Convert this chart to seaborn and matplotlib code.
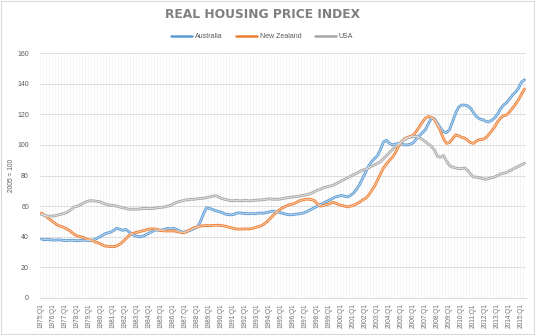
import numpy as np
import pandas as pd
import matplotlib
matplotlib.use("Agg")
import matplotlib.pyplot as plt
import seaborn as sns

# Quarterly real house price indices, 2005 = 100, 1975:Q1 .. 2015:Q2
australia = [
    38.5, 38.0, 38.3, 38.0,
    37.8, 37.9, 38.0, 37.7,
    37.5, 37.6, 37.8, 37.5,
    37.4, 37.6, 37.8, 37.6,
    37.5, 37.8, 38.5, 39.5,
    40.5, 41.8, 42.5, 43.0,
    44.0, 45.5, 45.0, 44.2,
    44.8, 43.5, 42.0, 40.8,
    40.2, 40.0, 40.5, 41.5,
    42.5, 43.5, 44.5, 44.2,
    44.3, 44.8, 45.5, 45.2,
    45.5, 44.8, 43.8, 43.0,
    43.2, 43.8, 44.5, 45.5,
    46.5, 50.0, 55.0, 59.0,
    58.5, 57.8, 57.0, 56.5,
    56.0, 55.0, 54.5, 54.3,
    54.5, 55.5, 55.6, 55.3,
    55.2, 55.0, 55.2, 55.0,
    55.3, 55.5, 55.4, 55.8,
    56.2, 56.8, 56.3, 56.0,
    55.5, 55.0, 54.5, 54.3,
    54.5, 54.8, 55.0, 55.3,
    56.0, 57.0, 58.0, 59.0,
    60.0, 61.0, 62.0, 63.0,
    64.0, 65.0, 66.0, 66.5,
    67.0, 66.5, 66.0, 67.0,
    68.5, 71.0, 74.0, 78.0,
    82.0, 86.0, 89.0, 91.0,
    93.0, 97.0, 102.0, 103.0,
    101.0, 100.0, 100.5, 101.0,
    100.5, 100.0, 100.0, 100.5,
    101.5, 104.0, 106.0, 108.0,
    110.0, 114.0, 117.5, 117.0,
    114.0, 111.0, 108.5, 108.0,
    110.0, 115.0, 120.5, 124.5,
    126.0, 126.0, 125.5, 124.0,
    121.0, 118.5, 117.0, 116.5,
    115.5, 115.0, 116.0, 117.5,
    120.0, 123.5, 126.0, 127.5,
    130.0, 132.5, 134.5, 137.0,
    141.0, 142.5,
]

new_zealand = [
    55.5, 54.0, 52.5, 51.0,
    49.5, 48.0, 47.0, 46.5,
    45.5, 44.5, 43.0, 41.5,
    40.5, 40.0, 39.5, 38.5,
    38.0, 37.5, 36.5, 36.0,
    35.0, 34.0, 33.8, 33.5,
    33.5, 34.0, 35.0, 36.5,
    38.5, 40.5, 42.0, 42.5,
    43.0, 43.5, 44.0, 44.5,
    45.0, 45.2, 45.0, 44.5,
    44.0, 43.8, 43.8, 43.8,
    43.8, 43.5, 43.0, 42.5,
    43.0, 44.0, 45.0, 46.0,
    46.5, 47.0, 47.2, 47.3,
    47.2, 47.4, 47.5, 47.5,
    47.3, 47.0, 46.5, 46.0,
    45.5, 45.0, 45.0, 45.0,
    45.2, 45.0, 45.3, 45.8,
    46.5, 47.0, 48.0, 49.5,
    51.5, 53.5, 55.5, 57.0,
    58.5, 59.5, 60.5, 61.0,
    61.5, 62.5, 63.5, 64.0,
    64.5, 64.5, 64.3, 63.5,
    61.5, 60.0, 60.5, 61.0,
    61.5, 62.5, 62.0, 61.0,
    60.5, 60.0, 59.5, 60.0,
    60.5, 61.5, 62.5, 64.0,
    65.0, 67.0, 70.0, 73.0,
    77.0, 81.0, 85.0, 87.5,
    90.0, 92.0, 95.0, 99.0,
    102.0, 104.0, 105.0, 105.5,
    106.5, 109.0, 112.0, 115.0,
    117.5, 118.5, 118.0, 116.5,
    113.0, 109.0, 104.0, 101.0,
    101.5, 104.0, 106.5, 106.0,
    105.0, 104.5, 103.0, 101.5,
    101.0, 102.5, 103.5, 103.5,
    104.5, 106.5, 109.0, 111.5,
    115.0, 117.5, 119.0, 119.5,
    121.5, 124.0, 126.5, 129.5,
    133.0, 136.5,
]

usa = [
    54.5, 54.0, 53.5, 53.5,
    53.5, 54.0, 54.5, 55.0,
    55.5, 56.5, 58.0, 59.5,
    60.0, 61.0, 62.0, 63.0,
    63.5, 63.5, 63.3, 63.0,
    62.5, 61.5, 61.0, 60.5,
    60.5, 60.0, 59.5, 59.0,
    58.5, 58.0, 58.0, 58.0,
    58.0, 58.2, 58.5, 58.5,
    58.3, 58.5, 58.7, 59.0,
    59.2, 59.5, 60.0, 60.5,
    61.5, 62.5, 63.0, 63.5,
    64.0, 64.2, 64.5, 64.5,
    64.8, 65.0, 65.2, 65.5,
    66.0, 66.5, 66.8, 66.0,
    65.0, 64.5, 64.0, 63.5,
    63.5, 63.8, 63.5, 63.5,
    63.8, 63.5, 63.5, 63.8,
    64.0, 64.0, 64.2, 64.5,
    64.8, 64.5, 64.5, 64.5,
    64.8, 65.2, 65.5, 65.8,
    66.0, 66.2, 66.5, 67.0,
    67.3, 67.8, 68.5, 69.5,
    70.5, 71.0, 72.0, 72.5,
    73.0, 73.5, 74.5, 75.5,
    76.5, 77.5, 78.5, 79.5,
    80.5, 81.5, 82.5, 83.5,
    84.0, 85.0, 86.0, 87.0,
    88.0, 89.0, 91.0, 93.0,
    95.0, 97.0, 99.0, 100.5,
    102.0, 103.5, 104.5, 105.0,
    105.5, 105.5, 104.5, 103.5,
    102.0, 100.5, 99.0, 96.5,
    92.5, 92.0, 93.0, 89.5,
    86.5, 85.5, 85.0, 84.5,
    84.5, 85.0, 83.5, 81.0,
    79.0, 79.0, 78.5, 78.0,
    77.5, 78.0, 78.5, 79.0,
    80.0, 81.0, 81.5, 82.0,
    83.0, 84.0, 85.0, 86.0,
    87.0, 88.0,
]

series_names = ["Australia", "New Zealand", "USA"]
line_colors = ["#5B9BD5", "#ED7D31", "#A5A5A5"]
inner_colors = ["#BDD7EE", "#F8CBAD", "#E2E2E2"]

n_quarters = len(australia)
quarters = [f"{1975 + i // 4}:Q{i % 4 + 1}" for i in range(n_quarters)]
tick_years = list(range(1975, 2016))
tick_labels = [f"{y}:Q1" for y in tick_years]
y_ticks = [0, 20, 40, 60, 80, 100, 120, 140, 160]

df = pd.DataFrame({
    "pos": np.tile(np.arange(n_quarters), 3),
    "quarter": quarters * 3,
    "series": np.repeat(series_names, n_quarters),
    "index": australia + new_zealand + usa,
})

sns.set_theme(style="white")
plt.rcParams["font.family"] = ["Liberation Sans", "DejaVu Sans"]

text_grey = "#595959"
fig = plt.figure(figsize=(5.35, 3.35), dpi=100)
ax = fig.add_axes([40 / 535, 37 / 335, 486 / 535, 245 / 335])

# outer line plus lighter core, giving the soft double-stroke look
sns.lineplot(data=df, x="pos", y="index", hue="series", hue_order=series_names,
             palette=line_colors, linewidth=2.0, ax=ax, legend=False,
             solid_capstyle="round", solid_joinstyle="round")
sns.lineplot(data=df, x="pos", y="index", hue="series", hue_order=series_names,
             palette=inner_colors, linewidth=0.7, ax=ax, legend=False,
             solid_capstyle="round", solid_joinstyle="round")

ax.set_xlim(-0.5, n_quarters - 0.5)
ax.set_ylim(0, 160)
ax.set_yticks(y_ticks)
ax.set_yticklabels([str(v) for v in y_ticks], fontsize=5, color=text_grey)
tick_pos = [quarters.index(lbl) for lbl in tick_labels]
ax.set_xticks(tick_pos)
ax.set_xticklabels(tick_labels, rotation=90, fontsize=4.7, color="#6E6E6E")
ax.set_xticks(np.arange(-0.5, n_quarters, 1), minor=True)
ax.tick_params(axis="both", which="both", length=0)
ax.tick_params(axis="y", pad=8)
ax.tick_params(axis="x", pad=4)

ax.grid(axis="y", which="major", color="#D9D9D9", linewidth=0.6)
ax.grid(axis="x", which="minor", color="#F2F2F2", linewidth=0.5)
ax.grid(axis="x", which="major", visible=False)
ax.set_axisbelow(True)
for side in ["top", "right", "left"]:
    ax.spines[side].set_visible(False)
ax.spines["bottom"].set_color("#D9D9D9")
ax.spines["bottom"].set_linewidth(0.7)

ax.set_xlabel("")
ax.set_ylabel("2005 = 100", fontsize=4.8, color=text_grey)
ax.yaxis.set_label_coords(-25 / 486, 0.5)

fig.text(0.49, 1 - 15 / 335, "REAL HOUSING PRICE INDEX", ha="center", va="center",
         fontsize=8.8, fontweight="bold", color="#7F7F7F", family="DejaVu Sans")

handles = [plt.Line2D([], [], color=c, linewidth=1.8) for c in line_colors]
fig.legend(handles, series_names, loc="center", bbox_to_anchor=(0.49, 1 - 37 / 335),
           ncol=3, frameon=False, fontsize=5, handlelength=3.0, handletextpad=0.4,
           columnspacing=2.0, labelcolor=text_grey)

fig.patches.append(plt.Rectangle((0.001, 0.002), 0.997, 0.995, transform=fig.transFigure,
                                 fill=False, edgecolor="#D9D9D9", linewidth=0.8))

fig.savefig("out.png", dpi=100)
